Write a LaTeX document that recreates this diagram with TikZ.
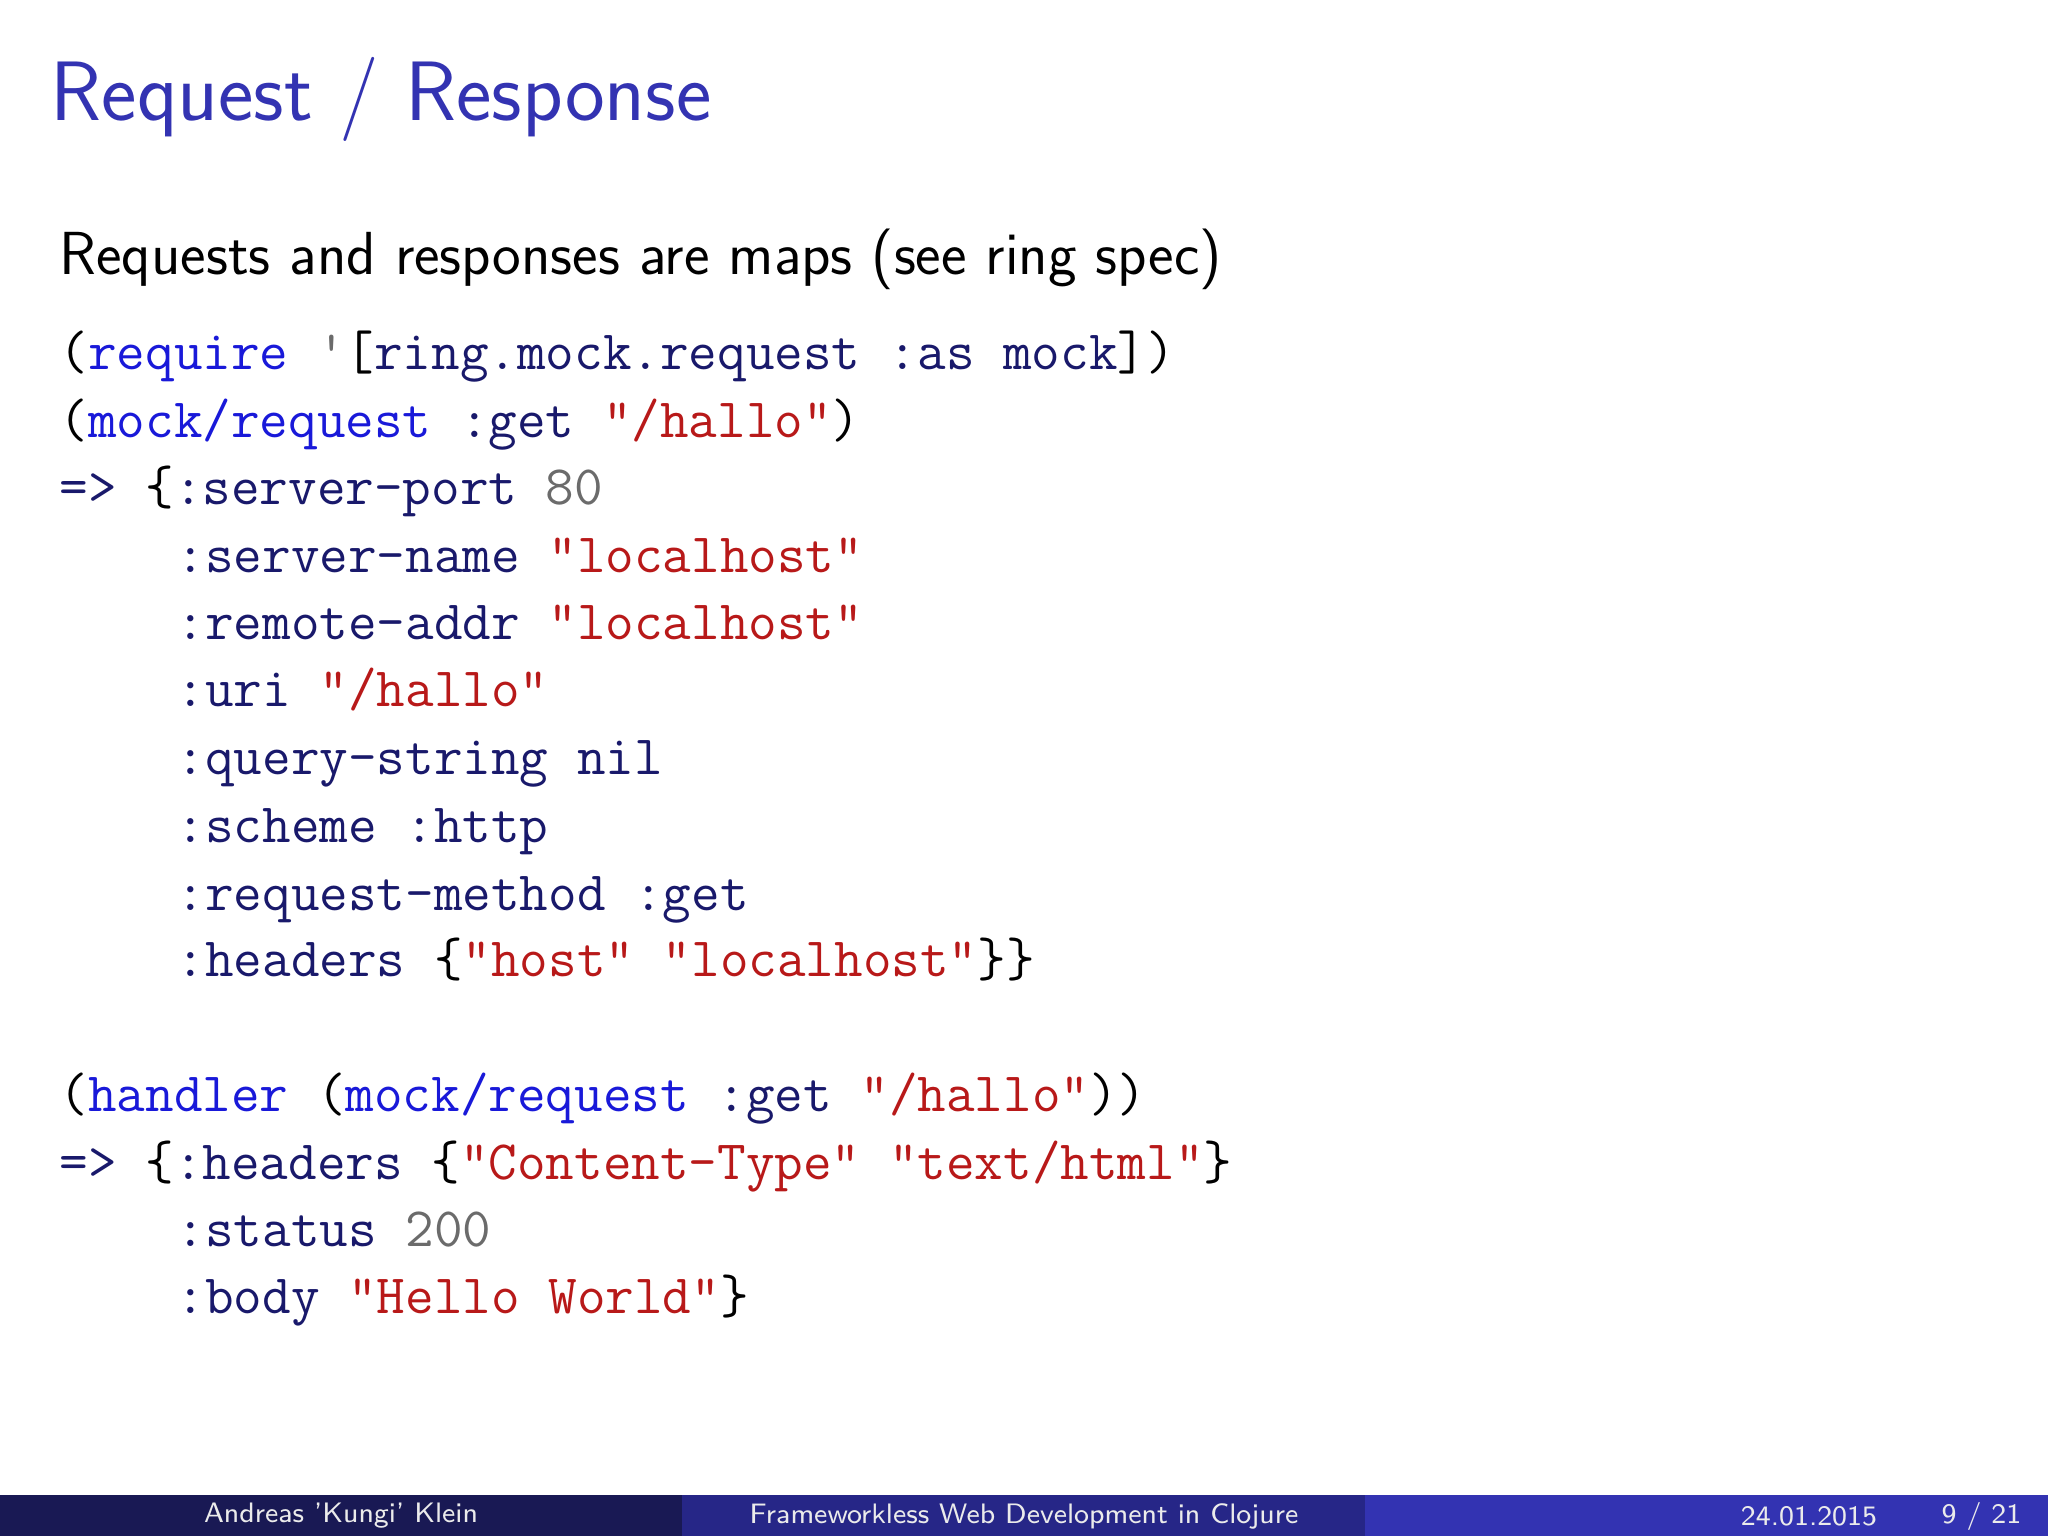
\documentclass[tikz,border=0pt]{standalone}
\usepackage{fontspec}
\definecolor{ckwc}{rgb}{0.1,0.1,0.85}
\definecolor{cnvc}{rgb}{0.1,0.1,0.42}
\definecolor{cstc}{rgb}{0.72,0.1,0.1}
\definecolor{cnmc}{rgb}{0.42,0.42,0.42}
\definecolor{strc}{rgb}{0.2,0.2,0.7}
\definecolor{foota}{rgb}{0.1,0.1,0.33}
\definecolor{footb}{rgb}{0.15,0.15,0.53}
\definecolor{footc}{rgb}{0.2,0.2,0.7}
\newcommand{\ckw}[1]{\textcolor{ckwc}{#1}}
\newcommand{\cnv}[1]{\textcolor{cnvc}{#1}}
\newcommand{\cst}[1]{\textcolor{cstc}{#1}}
\newcommand{\cnm}[1]{\textcolor{cnmc}{#1}}
\tikzset{codeline/.style={anchor=base west,inner sep=0pt,font=\fontsize{15.8}{19}\selectfont\ttfamily}}
\begin{document}
\begin{tikzpicture}
\useasboundingbox (0,0) rectangle (20.48,15.36);
\fill[white] (0,0) rectangle (20.48,15.36);
\node[anchor=base west,inner sep=0pt,text=strc,font=\fontsize{24}{28}\selectfont\sffamily] (title) at (0.50,{15.36-92*0.01306}) {Request / Response};
\node[anchor=base west,inner sep=0pt,font=\fontsize{17.3}{20}\selectfont\sffamily] (intro) at (0.59,{15.36-210*0.01306}) {Requests and responses are maps (see ring spec)};
\def\xa{0.59}\def\xb{1.76}
\node[codeline] (l1) at (\xa,{15.36-283*0.01306}) {(\ckw{require} \cnm{\char"27}[\cnv{ring.mock.request :as mock}])};
\node[codeline] (l2) at (\xa,{15.36-335*0.01306}) {(\ckw{mock/request} \cnv{:get} \cst{"/hallo"})};
\node[codeline] (l3) at (\xa,{15.36-386*0.01306}) {\cnv{=>} \{\cnv{:server-port} \cnm{80}};
\node[codeline] (l4) at (\xb,{15.36-438*0.01306}) {\cnv{:server-name} \cst{"localhost"}};
\node[codeline] (l5) at (\xb,{15.36-490*0.01306}) {\cnv{:remote-addr} \cst{"localhost"}};
\node[codeline] (l6) at (\xb,{15.36-541*0.01306}) {\cnv{:uri} \cst{"/hallo"}};
\node[codeline] (l7) at (\xb,{15.36-593*0.01306}) {\cnv{:query-string nil}};
\node[codeline] (l8) at (\xb,{15.36-645*0.01306}) {\cnv{:scheme :http}};
\node[codeline] (l9) at (\xb,{15.36-697*0.01306}) {\cnv{:request-method :get}};
\node[codeline] (l10) at (\xb,{15.36-748*0.01306}) {\cnv{:headers} \{\cst{"host" "localhost"}\}\}};
\node[codeline] (l11) at (\xa,{15.36-851*0.01306}) {(\ckw{handler} (\ckw{mock/request} \cnv{:get} \cst{"/hallo"}))};
\node[codeline] (l12) at (\xa,{15.36-903*0.01306}) {\cnv{=>} \{\cnv{:headers} \{\cst{"Content-Type" "text/html"}\}};
\node[codeline] (l13) at (\xb,{15.36-954*0.01306}) {\cnv{:status} \cnm{200}};
\node[codeline] (l14) at (\xb,{15.36-1006*0.01306}) {\cnv{:body} \cst{"Hello World"}\}};
% footer
\fill[foota] (0,0) rectangle (6.82,0.41);
\fill[footb] (6.82,0) rectangle (13.65,0.41);
\fill[footc] (13.65,0) rectangle (20.48,0.41);
\tikzset{foot/.style={inner sep=0pt,text=white!92!black,font=\fontsize{8}{9}\selectfont\sffamily}}
\node[foot] (fa) at (3.41,0.2) {Andreas 'Kungi' Klein};
\node[foot] (fb) at (10.24,0.2) {Frameworkless Web Development in Clojure};
\node[foot] (fc) at (18.09,0.2) {24.01.2015};
\node[foot,anchor=east] (fd) at (20.22,0.2) {9 / 21};
\end{tikzpicture}
\end{document}
